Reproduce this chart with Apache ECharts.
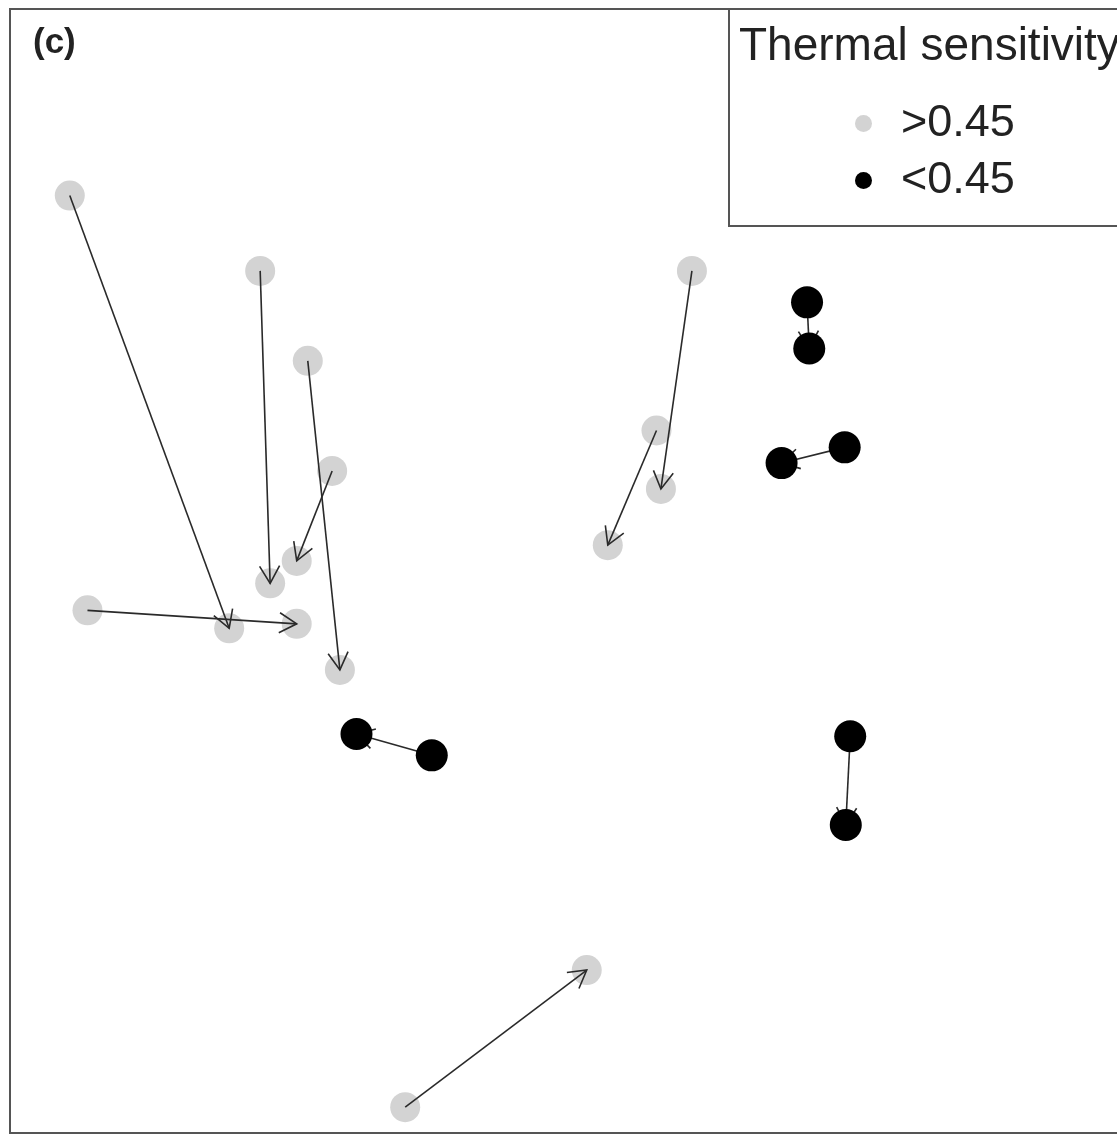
<!DOCTYPE html>
<html>
<head>
<meta charset="utf-8">
<script src="https://cdn.jsdelivr.net/npm/echarts@6/dist/echarts.min.js"></script>
<style>
  html, body { margin: 0; padding: 0; background: #fff; }
  #chart { width: 1117px; height: 1136px; }
</style>
</head>
<body>
<div id="chart"></div>
<script>
// arrow start / end positions (arbitrary units, 0..10 on both axes)
const fromX = [0.54, 2.26, 2.69, 2.91, 0.70, 6.16, 5.84, 7.20, 7.54, 3.81, 7.59, 3.57]
const fromY = [8.34, 7.67, 6.87, 5.89, 4.65, 7.67, 6.25, 7.39, 6.10, 3.36, 3.53, 0.23]
const toX   = [1.98, 2.35, 2.98, 2.59, 2.59, 5.88, 5.40, 7.22, 6.97, 3.13, 7.55, 5.21]
const toY   = [4.49, 4.89, 4.12, 5.09, 4.53, 5.73, 5.23, 6.98, 5.96, 3.55, 2.74, 1.45]
// thermal sensitivity class of each arrow
const sens  = ['>0.45', '>0.45', '>0.45', '>0.45', '>0.45', '>0.45', '>0.45',
               '<0.45', '<0.45', '<0.45', '<0.45', '>0.45']

const pointsFor = (cls) => {
    let pts = []
    for (let i = 0; i < sens.length; i++) {
        if (sens[i] !== cls) continue
        pts.push([fromX[i], fromY[i]])
        pts.push([toX[i], toY[i]])
    }
    return pts
}
const arrowData = fromX.map((x, i) => [x, fromY[i], toX[i], toY[i]])

let myChart = echarts.init(document.getElementById('chart'))
let option = {
    animation: false,
    title: [
        {
            text: '(c)', left: 28, top: 21,
            textStyle: { fontFamily: 'Liberation Sans', fontSize: 35, fontWeight: 'bold', color: '#222' },
        },
        {
            text: 'Thermal sensitivity', left: 734, top: 19,
            textStyle: { fontFamily: 'Liberation Sans', fontSize: 46, fontWeight: 'normal', color: '#222' },
        },
    ],
    legend: {
        orient: 'vertical',
        left: 850, top: 96,
        itemGap: 12,
        itemWidth: 17, itemHeight: 17,
        data: [
            { name: '>0.45', icon: 'circle' },
            { name: '<0.45', icon: 'circle' },
        ],
        textStyle: { fontFamily: 'Liberation Sans', fontSize: 45, color: '#222', padding: [0, 0, 0, 24] },
    },
    // plot frame (runs off the right edge, like the source) and legend box
    graphic: [
        {
            type: 'rect', z: 0,
            shape: { x: 10, y: 9, width: 1130, height: 1124 },
            style: { fill: 'transparent', stroke: '#555', lineWidth: 2 },
        },
        {
            type: 'rect', z: 0,
            shape: { x: 729, y: 9, width: 420, height: 217 },
            style: { fill: '#fff', stroke: '#555', lineWidth: 2 },
        },
    ],
    grid: { show: false, left: 10, top: 9, right: 0, bottom: 3 },
    xAxis: { type: 'value', min: 0, max: 10, show: false },
    yAxis: { type: 'value', min: 0, max: 10, show: false },
    series: [
        {
            name: '>0.45', type: 'scatter', symbolSize: 30, z: 1,
            itemStyle: { color: '#d3d3d3', opacity: 1 },
            data: pointsFor('>0.45'),
        },
        {
            type: 'custom', z: 2,
            renderItem: (params, api) => {
                let p0 = api.coord([api.value(0), api.value(1)])
                let p1 = api.coord([api.value(2), api.value(3)])
                let ang = Math.atan2(p1[1] - p0[1], p1[0] - p0[0])
                let len = 20, spread = Math.PI / 6
                let h1 = [p1[0] - len * Math.cos(ang - spread), p1[1] - len * Math.sin(ang - spread)]
                let h2 = [p1[0] - len * Math.cos(ang + spread), p1[1] - len * Math.sin(ang + spread)]
                return {
                    type: 'group',
                    children: [
                        { type: 'line', shape: { x1: p0[0], y1: p0[1], x2: p1[0], y2: p1[1] },
                          style: { stroke: '#2a2a2a', lineWidth: 1.6 } },
                        { type: 'polyline', shape: { points: [h1, p1, h2] },
                          style: { stroke: '#2a2a2a', lineWidth: 1.6, fill: null } },
                    ],
                }
            },
            encode: { x: [0, 2], y: [1, 3] },
            data: arrowData,
        },
        {
            name: '<0.45', type: 'scatter', symbolSize: 32, z: 3,
            itemStyle: { color: '#000', opacity: 1 },
            data: pointsFor('<0.45'),
        },
    ],
}
option && myChart.setOption(option)
</script>
</body>
</html>
